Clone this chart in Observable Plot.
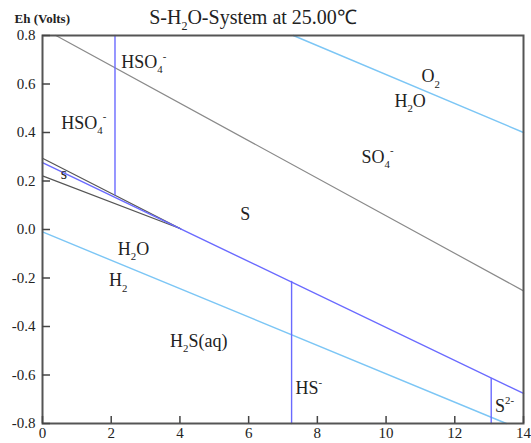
<!DOCTYPE html>
<html>
<head>
<meta charset="utf-8">
<script src="https://cdn.jsdelivr.net/npm/d3@7"></script>
<script src="https://cdn.jsdelivr.net/npm/@observablehq/plot@0.6"></script>
<style>
  html, body { margin: 0; padding: 0; background: white; }
</style>
</head>
<body>
<div id="chart"></div>
<script>
// ---- data ----
const xTicks = [0, 2, 4, 6, 8, 10, 12, 14];
const yTicks = [-0.8, -0.6, -0.4, -0.2, 0.0, 0.2, 0.4, 0.6, 0.8];

// boundary lines: [pH, Eh]
const sulfateSulfurLine = [[0.39, 0.8], [14, -0.253]];
const bisulfateBoundary = [[2.11, 0.8], [2.11, 0.143]];
const sulfideLine = [[0, 0.276], [14, -0.676]];
const sulfurUpperLeft = [[0, 0.294], [4.02, 0.003]];
const sulfurLowerLeft = [[0, 0.221], [4.02, 0.003]];
const hsBoundary = [[7.25, -0.8], [7.25, -0.214]];
const s2Boundary = [[13.06, -0.8], [13.06, -0.614]];
const o2WaterLine = [[7.3, 0.8], [14, 0.40]];
const h2WaterLine = [[0, -0.01], [13.5, -0.8]];

// region labels
const labelText = ["HSO_{4}^{-}", "HSO_{4}^{-}", "O_{2}", "H_{2}O", "SO_{4}^{-}", "S", "s", "H_{2}O", "H_{2}", "H_{2}S(aq)", "HS^{-}", "S^{2-}"];
const labelPH   = [2.95, 1.2, 11.3, 10.7, 9.75, 5.9, 0.62, 2.65, 2.2, 4.55, 7.75, 13.45];
const labelEh   = [0.69, 0.44, 0.63, 0.53, 0.30, 0.065, 0.231, -0.08, -0.21, -0.46, -0.655, -0.73];
const labelSize = [18, 18, 18, 18, 18, 18, 16, 18, 18, 18, 18, 18];

const titleText = "S-H_{2}O-System at 25.00℃";
const yLabelText = "Eh (Volts)";

const labels = labelText.map((t, i) => ({text: t, pH: labelPH[i], Eh: labelEh[i], size: labelSize[i]}));

const seg = (arr, stroke, w) => Plot.line(arr, {x: d => d[0], y: d => d[1], stroke, strokeWidth: w});

const grayLight = "#8a8a8a", grayDark = "#555", blue = "#6a6aff", lightBlue = "#7cc6f5";

const plot = Plot.plot({
  width: 531,
  height: 443,
  marginTop: 35,
  marginLeft: 42,
  marginRight: 8,
  marginBottom: 20,
  style: {fontFamily: "'Liberation Serif', 'Times New Roman', serif", fontSize: "15px", background: "white", color: "#222"},
  x: {domain: [0, 14]},
  y: {domain: [-0.8, 0.8]},
  marks: [
    seg(o2WaterLine, lightBlue, 1.4),
    seg(h2WaterLine, lightBlue, 1.4),
    seg(sulfateSulfurLine, grayLight, 1.2),
    seg(sulfurUpperLeft, grayDark, 1.2),
    seg(sulfurLowerLeft, grayDark, 1.2),
    seg(sulfideLine, blue, 1.4),
    seg(bisulfateBoundary, blue, 1.4),
    seg(hsBoundary, blue, 1.4),
    seg(s2Boundary, blue, 1.4),
    Plot.frame({stroke: "#555", strokeWidth: 2}),
    Plot.axisX({ticks: xTicks, tickSize: -7, tickPadding: 11, tickFormat: d => String(d), label: null, stroke: "#444", strokeWidth: 1.5, fontSize: 15}),
    Plot.axisY({ticks: yTicks, tickSize: -8, tickPadding: 15, tickFormat: d => d.toFixed(1), label: null, stroke: "#444", strokeWidth: 1.5, fontSize: 15}),
    Plot.text(labels, {x: "pH", y: "Eh", text: "text", fontSize: "size", fill: "#222"}),
    Plot.text([titleText], {frameAnchor: "top", lineAnchor: "middle", dx: -30, dy: -18, fontSize: 20, fill: "#222"}),
    Plot.text([yLabelText], {frameAnchor: "top-left", lineAnchor: "middle", dx: -28, dy: -17, textAnchor: "start", fontSize: 13, fontWeight: "bold", fill: "#222"})
  ]
});

document.getElementById("chart").appendChild(plot);

// rich text: _{..} subscript, ^{..} superscript
d3.select(plot).selectAll("text").each(function () {
  const s = this.textContent;
  if (!/[_^]\{/.test(s)) return;
  const base = parseFloat(getComputedStyle(this).fontSize) || 18;
  const el = d3.select(this);
  el.selectAll("*").remove();
  el.text(null);
  const re = /([_^])\{([^}]*)\}|([^_^]+)/g;
  let m, shift = 0;
  while ((m = re.exec(s))) {
    const t = el.append("tspan");
    if (m[3] !== undefined) {
      t.text(m[3]).attr("dy", -shift).attr("font-size", base);
      shift = 0;
    } else {
      const target = m[1] === "_" ? base * 0.3 : -base * 0.45;
      t.text(m[2]).attr("dy", target - shift).attr("font-size", base * 0.6);
      shift = target;
    }
  }
});
</script>
</body>
</html>
